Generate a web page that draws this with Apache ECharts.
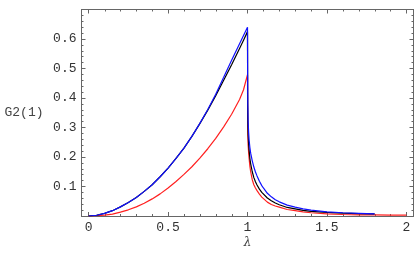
<!DOCTYPE html>
<html>
<head>
<meta charset="utf-8">
<script src="https://cdn.jsdelivr.net/npm/echarts@6/dist/echarts.min.js"></script>
<style>
html,body{margin:0;padding:0;background:#fff;}
#chart{width:415px;height:257px;}
</style>
</head>
<body>
<div id="chart"></div>
<script>
// lambda grid (shared by all series)
var lambdaVals = [0, 0.05, 0.1, 0.15, 0.2, 0.25, 0.3, 0.35, 0.4, 0.45, 0.5, 0.55, 0.6, 0.65, 0.7, 0.75, 0.8, 0.85, 0.9, 0.95, 0.975, 1.0,
  1.001, 1.002, 1.004, 1.007, 1.01, 1.015, 1.02, 1.03, 1.04, 1.05, 1.06, 1.075, 1.09, 1.1, 1.125, 1.15, 1.175, 1.2, 1.25, 1.3, 1.35, 1.4, 1.5, 1.6, 1.7, 1.8, 1.9, 2.0];
var blueVals = [0, 0.0025, 0.009, 0.018, 0.031, 0.046, 0.063, 0.0835, 0.106, 0.133, 0.162, 0.195, 0.23, 0.27, 0.314, 0.361, 0.413, 0.47, 0.528, 0.584, 0.612, 0.64,
  0.45, 0.38, 0.32, 0.285, 0.258, 0.232, 0.213, 0.187, 0.166, 0.149, 0.136, 0.118, 0.103, 0.095, 0.077, 0.065, 0.055, 0.048, 0.037, 0.03, 0.024, 0.02, 0.014, 0.011, 0.009, 0.007, null, null];
var blackVals = [0, 0.0025, 0.009, 0.018, 0.031, 0.046, 0.063, 0.0835, 0.106, 0.133, 0.162, 0.195, 0.23, 0.27, 0.313, 0.359, 0.408, 0.46, 0.513, 0.568, 0.596, 0.625,
  0.38, 0.32, 0.275, 0.245, 0.224, 0.195, 0.177, 0.15, 0.13, 0.116, 0.105, 0.091, 0.08, 0.075, 0.061, 0.052, 0.044, 0.038, 0.029, 0.024, 0.019, 0.016, 0.012, 0.0095, 0.008, 0.007, null, null];
var redVals = [0, 0.0008, 0.003, 0.0065, 0.013, 0.021, 0.031, 0.043, 0.058, 0.075, 0.095, 0.117, 0.141, 0.167, 0.196, 0.228, 0.263, 0.302, 0.345, 0.395, 0.428, 0.479,
  0.33, 0.28, 0.24, 0.215, 0.196, 0.168, 0.15, 0.123, 0.106, 0.095, 0.086, 0.074, 0.064, 0.058, 0.047, 0.039, 0.034, 0.03, 0.022, 0.018, 0.014, 0.011, 0.007, 0.005, 0.004, 0.004, 0.003, 0.003];
var xTicks = [0, 0.5, 1, 1.5, 2];
var xMinorTicks = [0.1, 0.2, 0.3, 0.4, 0.6, 0.7, 0.8, 0.9, 1.1, 1.2, 1.3, 1.4, 1.6, 1.7, 1.8, 1.9];
var yTickLabels = ['0.1', '0.2', '0.3', '0.4', '0.5', '0.6'];

function pairs(ys) {
  var out = [];
  for (var i = 0; i < lambdaVals.length; i++) {
    if (ys[i] !== null) out.push([lambdaVals[i], ys[i]]);
  }
  return out;
}

var chart = echarts.init(document.getElementById('chart'), null, { renderer: 'canvas' });
var frameColor = '#666';
var labelFont = { fontFamily: 'Liberation Mono', fontSize: 13, color: '#333' };
var X_MIN = -0.045, X_MAX = 2.045, Y_MIN = 0, Y_MAX = 0.7;

function xAx(pos, extra) {
  return Object.assign({
    type: 'value', position: pos, min: X_MIN, max: X_MAX,
    axisLine: { show: true, onZero: false, lineStyle: { color: frameColor } },
    axisTick: { show: true, inside: true, length: 4, customValues: xTicks, lineStyle: { color: frameColor } },
    splitLine: { show: false },
    axisLabel: { show: false }
  }, extra || {});
}
function yAx(pos, extra) {
  return Object.assign({
    type: 'value', position: pos, min: Y_MIN, max: Y_MAX, interval: 0.1,
    axisLine: { show: true, onZero: false, lineStyle: { color: frameColor } },
    axisTick: { show: true, inside: true, length: 4, lineStyle: { color: frameColor } },
    minorTick: { show: true, splitNumber: 5, length: 2, lineStyle: { color: frameColor } },
    splitLine: { show: false },
    minorSplitLine: { show: false },
    axisLabel: { show: false }
  }, extra || {});
}

var xAxes = [
  xAx('bottom', {
    name: 'λ', nameLocation: 'middle', nameGap: 21, nameMoveOverlap: false,
    nameTextStyle: { fontFamily: 'DejaVu Serif', fontStyle: 'italic', fontSize: 12, color: '#444', verticalAlign: 'top' },
    axisLabel: Object.assign({ show: true, margin: 5, customValues: xTicks, formatter: function (v) { return String(v); } }, labelFont)
  }),
  xAx('top')
];
var yAxes = [
  yAx('left', {
    name: 'G2(1)', nameLocation: 'middle', nameRotate: 0, nameGap: 38, nameMoveOverlap: false,
    nameTextStyle: { fontFamily: 'Liberation Mono', fontSize: 13, color: '#444' },
    axisLabel: Object.assign({
      show: true, margin: 5,
      formatter: function (v) {
        var s = v.toFixed(1);
        return yTickLabels.indexOf(s) >= 0 ? s : '';
      }
    }, labelFont)
  }),
  yAx('right')
];

function lineSeries(name, ys, color, z) {
  return {
    name: name, type: 'line', data: pairs(ys), xAxisIndex: 0, yAxisIndex: 0,
    showSymbol: false, symbol: 'none', smooth: false, z: z, silent: true,
    lineStyle: { color: color, width: 1.2 }, animation: false
  };
}

var minorTickSeries = {
  type: 'custom', xAxisIndex: 0, yAxisIndex: 0, silent: true, clip: false, z: 1,
  data: xMinorTicks.map(function (v) { return [v, Y_MIN]; }),
  encode: { x: 0, y: 1 },
  renderItem: function (params, api) {
    var v = api.value(0);
    var b = api.coord([v, Y_MIN]);
    var t = api.coord([v, Y_MAX]);
    var x = Math.round(b[0]) + 0.5;
    return {
      type: 'group',
      children: [
        { type: 'line', shape: { x1: x, y1: b[1], x2: x, y2: b[1] - 2 }, style: { stroke: frameColor, lineWidth: 1 } },
        { type: 'line', shape: { x1: x, y1: t[1], x2: x, y2: t[1] + 2 }, style: { stroke: frameColor, lineWidth: 1 } }
      ]
    };
  }
};

chart.setOption({
  animation: false,
  backgroundColor: '#fff',
  grid: { left: 81.5, right: 1.5, top: 9.5, bottom: 41, containLabel: false },
  xAxis: xAxes,
  yAxis: yAxes,
  series: [
    minorTickSeries,
    lineSeries('red', redVals, '#ff2020', 2),
    lineSeries('black', blackVals, '#000000', 3),
    lineSeries('blue', blueVals, '#1010ff', 4)
  ]
});
</script>
</body>
</html>
